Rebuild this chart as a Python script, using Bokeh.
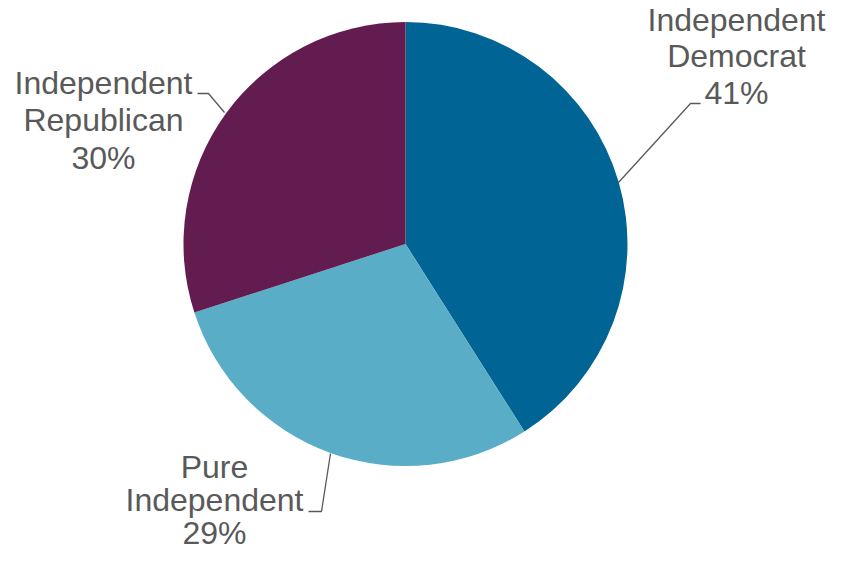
import numpy as np
from bokeh.plotting import figure
from bokeh.models import Range1d
from bokeh.core.properties import value
from bokeh.embed import file_html
from bokeh.resources import INLINE

categories = ["Independent Democrat", "Pure Independent", "Independent Republican"]
label_lines = [["Independent", "Democrat"], ["Pure", "Independent"], ["Independent", "Republican"]]
shares = [41, 29, 30]
colors = ["#006494", "#5AADC6", "#621C4F"]

W, H = 826, 553

def Y(wy):
    return H - wy

p = figure(width=W, height=H, output_backend="svg", toolbar_location=None,
           x_range=Range1d(0, W), y_range=Range1d(0, H),
           min_border=0, outline_line_color=None)
p.axis.visible = False
p.grid.visible = False

cx, cy, r = 405, Y(243.5), 222
fr = np.array(shares, dtype=float) / sum(shares)
cum = np.concatenate([[0], np.cumsum(fr)])
starts = np.pi / 2 - cum[:-1] * 2 * np.pi
ends = np.pi / 2 - cum[1:] * 2 * np.pi
p.wedge(x=cx, y=cy, radius=r, start_angle=starts, end_angle=ends,
        direction="clock", fill_color=colors, line_color=None)

# leader lines (picture coordinates)
leaders = [
    [(618, 182), (690, 103), (700, 103)],
    [(330, 453), (321, 511), (308, 511)],
    [(224, 112), (208, 93), (197, 93)],
]
for pts in leaders:
    p.line([a for a, b in pts], [Y(b) for a, b in pts], line_color="#595959", line_width=1.3)

# label anchors: center x, first baseline y, line spacing
SHIFT = 11  # renderer places alphabetic baseline lower than requested
anchors = [(736, 30, 36.5), (214, 477, 33), (103, 93, 37.5)]
for (ax, ay, lh), lines, s in zip(anchors, label_lines, shares):
    texts = lines + [f"{s}%"]
    xs = [ax] * len(texts)
    ys = [Y(ay - SHIFT + i * lh) for i in range(len(texts))]
    p.text(x=xs, y=ys, text=texts, text_align="center", text_baseline="alphabetic",
           text_font=value("Liberation Sans"), text_font_size="32px", text_color="#595959")

open("out.html", "w").write(file_html(p, INLINE))
